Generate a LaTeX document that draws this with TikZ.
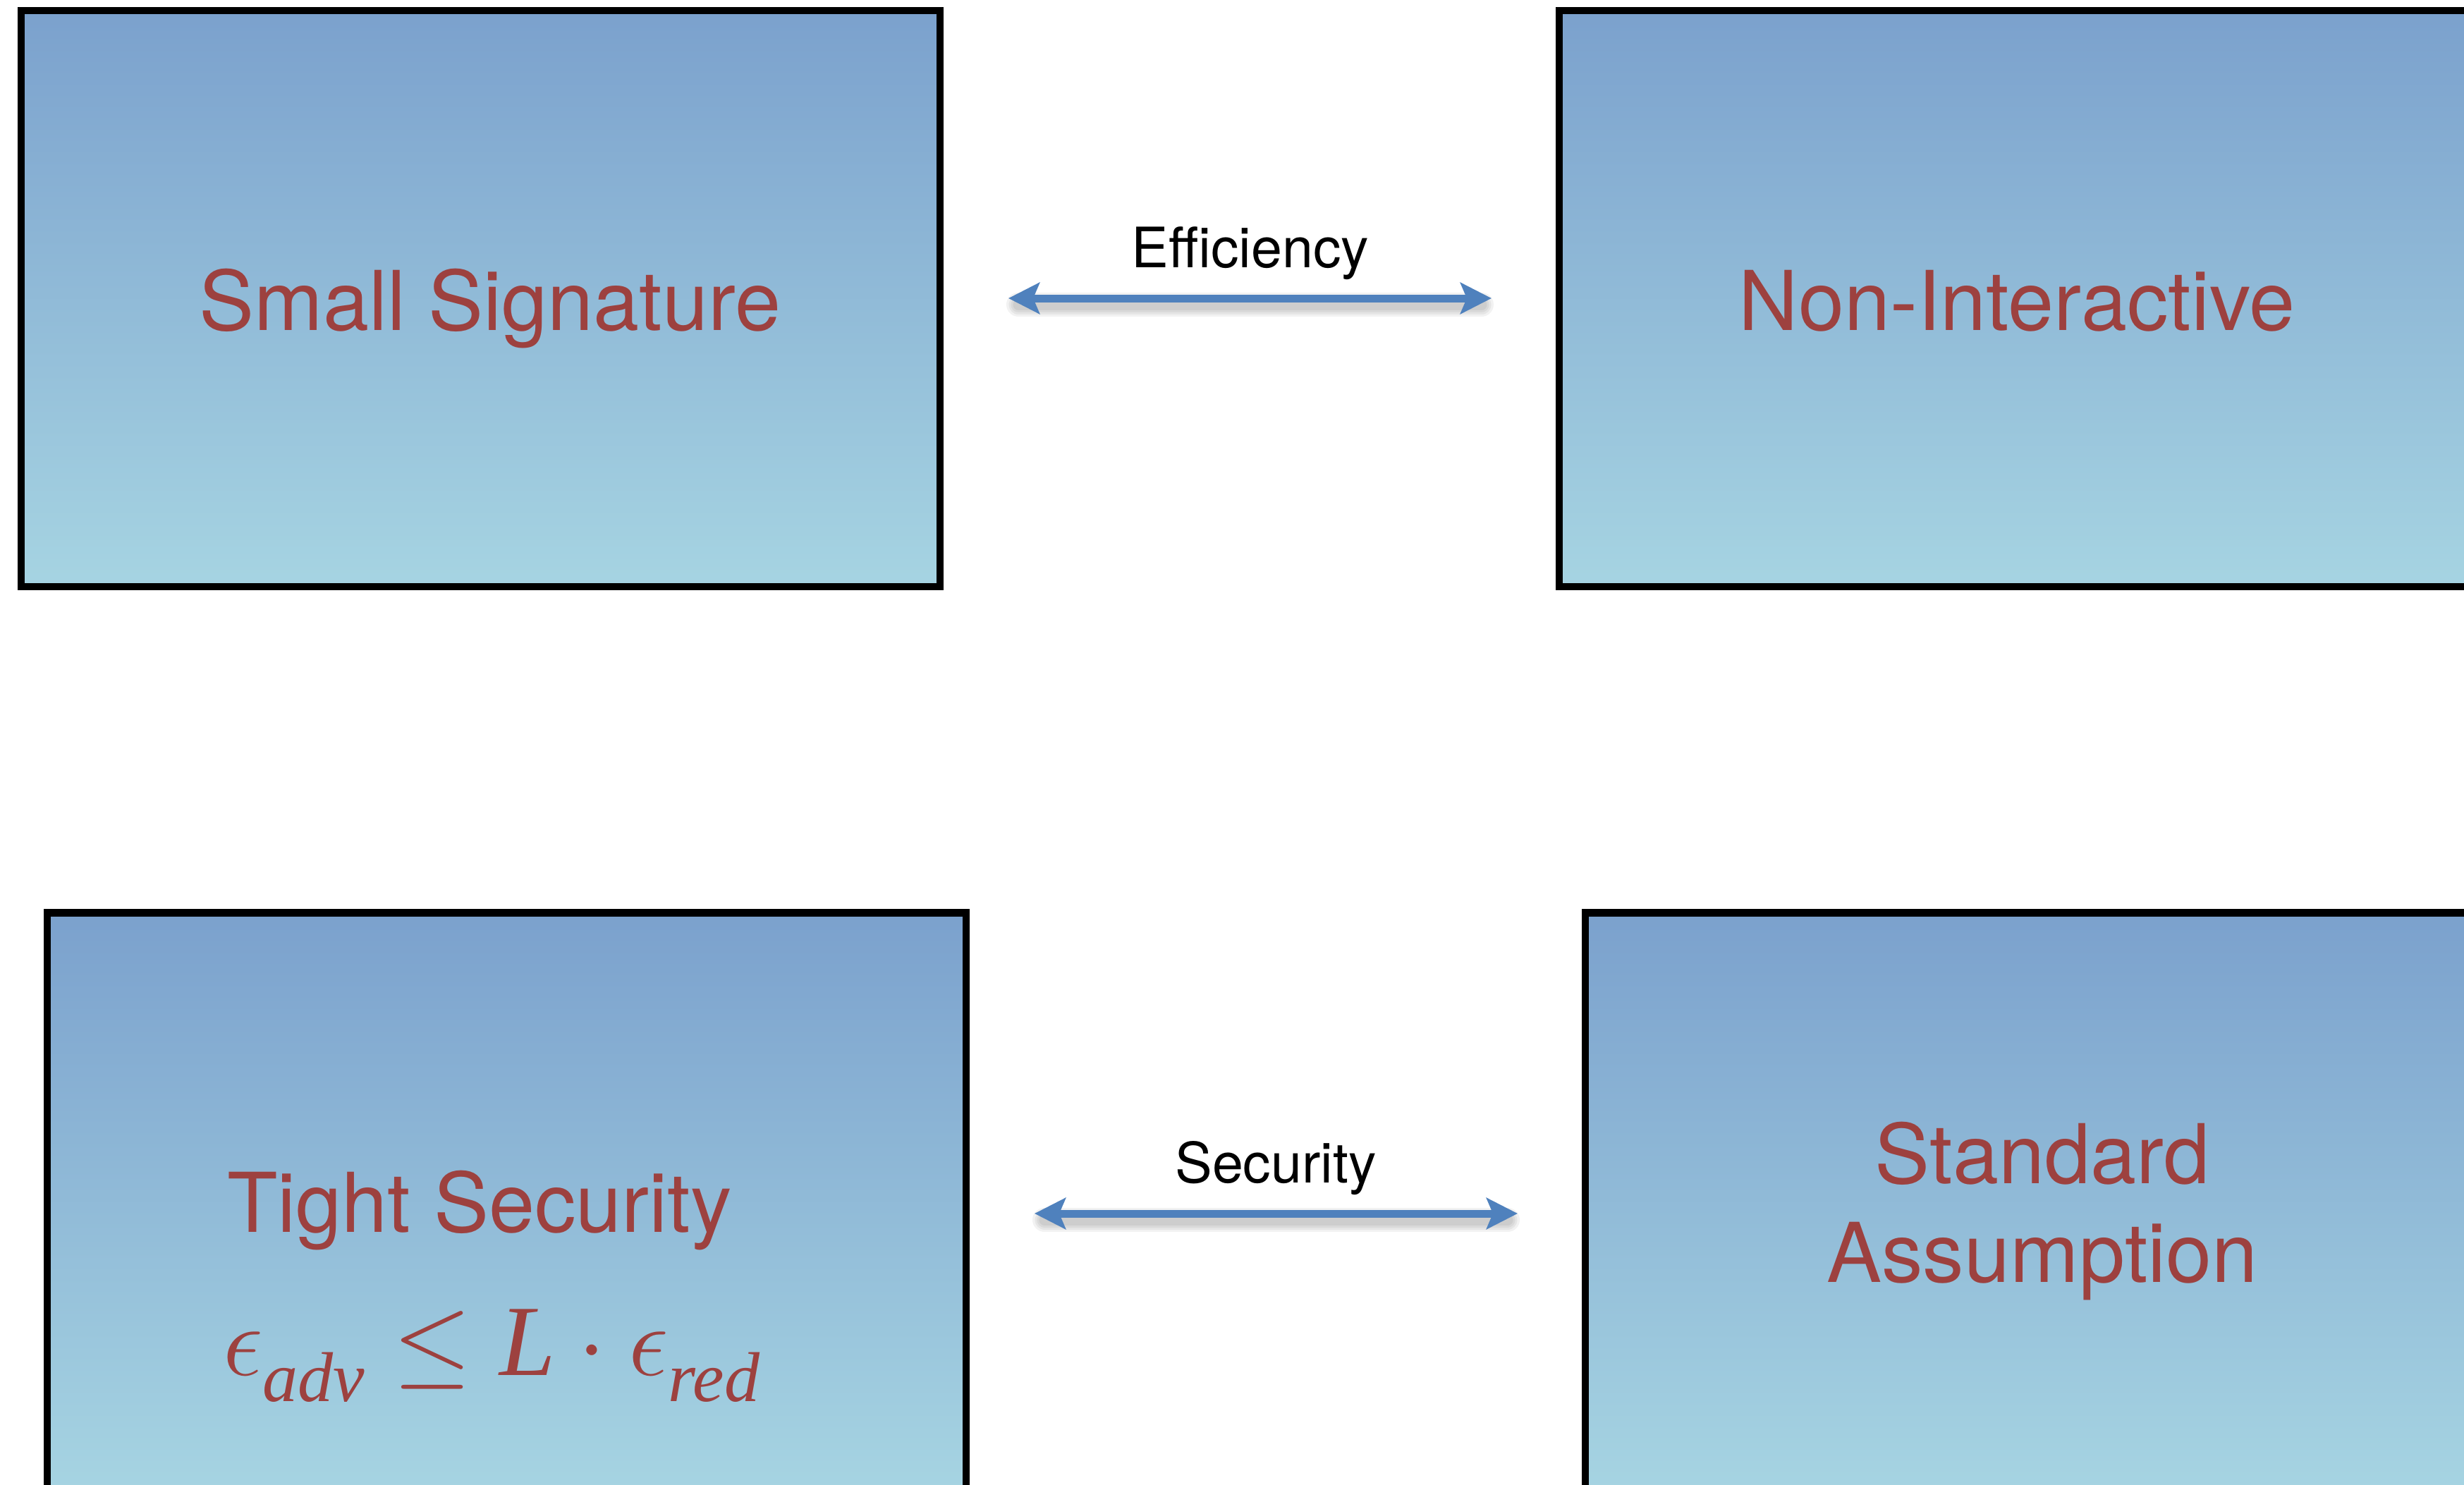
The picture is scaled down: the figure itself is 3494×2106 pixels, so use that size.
\RequirePackage{fix-cm}
\documentclass[tikz,border=0pt]{standalone}
\usepackage{amsmath}
\usepackage{fontspec}
\setmainfont{TeX Gyre Heros}
\newfontfamily\timesface{Liberation Serif}
\usetikzlibrary{arrows.meta}

\definecolor{labelred}{RGB}{157,65,63}
\definecolor{shadetop}{RGB}{123,161,205}
\definecolor{shadebottom}{RGB}{166,212,226}
\definecolor{arrowblue}{RGB}{79,129,189}

% italic serif letters inside the formula
\newcommand{\tvar}[1]{\text{\timesface\itshape #1}}
% subscripts set a little lower than the default drop
\newcommand{\tsub}[1]{\text{\timesface\itshape\raisebox{-0.16em}{#1}}}

\tikzset{
  panel/.style={draw=black, line width=10.5pt, top color=shadetop,
    bottom color=shadebottom, minimum width=1303pt, minimum height=817pt,
    inner sep=0pt},
  title/.style={text=labelred, inner sep=0pt, anchor=base,
    font=\fontsize{117}{140}\selectfont},
  formula/.style={text=labelred, inner sep=0pt, anchor=base,
    font=\fontsize{143}{170}\selectfont},
  relabel/.style={text=black, inner sep=0pt, anchor=base,
    font=\fontsize{79}{95}\selectfont},
  link/.style={draw=arrowblue, line width=11pt,
    {Stealth[length=44pt,width=44pt,inset=9pt]}-{Stealth[length=44pt,width=44pt,inset=9pt]}},
  linkshadow/.style={draw=black, opacity=0.05, line cap=round}
}

\begin{document}
\begin{tikzpicture}[x=1pt,y=-1pt]
  \useasboundingbox (0,0) rectangle (3494,2106);
  \fill[white] (0,0) rectangle (3494,2106);

  % the four panels, cut off at the page edge
  \begin{scope}
    \clip (0,0) rectangle (3494,2106);
    \node[panel] (sig)    at (681.5,423.5) {};
    \node[panel] (nonint) at (2862.5,423.5) {};
    \node[panel] (tight)  at (718.5,1703) {};
    \node[panel] (std)    at (2899.5,1703) {};
  \end{scope}

  % panel texts
  \node[title] (sigtext)  at (695,468)   {Small Signature};
  \node[title] (ninttext) at (2860,468)  {Non-Interactive};
  \node[title] (tighttext) at (680,1747) {Tight Security};
  \node[formula] (tightmath) at (697,1950)
    {$\epsilon_{\tsub{adv}} \leq \tvar{L} \cdot \epsilon_{\tsub{red}}$};
  \node[title] (stdtop) at (2896,1678) {Standard};
  \node[title] (stdbot) at (2896,1818) {Assumption};

  % arrow end points
  \coordinate (effL) at (1430,423);
  \coordinate (effR) at (2115,423);
  \coordinate (secL) at (1467,1721);
  \coordinate (secR) at (2152,1721);

  % soft drop shadows under the arrows
  \foreach \w in {34,27,21,15}{
    \draw[linkshadow, line width=\w pt]
      ([xshift=14pt,yshift=-9pt]effL) -- ([xshift=-14pt,yshift=-9pt]effR);
    \draw[linkshadow, line width=\w pt]
      ([xshift=14pt,yshift=-9pt]secL) -- ([xshift=-14pt,yshift=-9pt]secR);
  }

  % double-headed arrows
  \draw[link] (effL) -- (effR);
  \draw[link] (secL) -- (secR);

  % arrow labels
  \node[relabel] (efflabel) at (1773,379)  {Efficiency};
  \node[relabel] (seclabel) at (1809,1677) {Security};
\end{tikzpicture}
\end{document}
